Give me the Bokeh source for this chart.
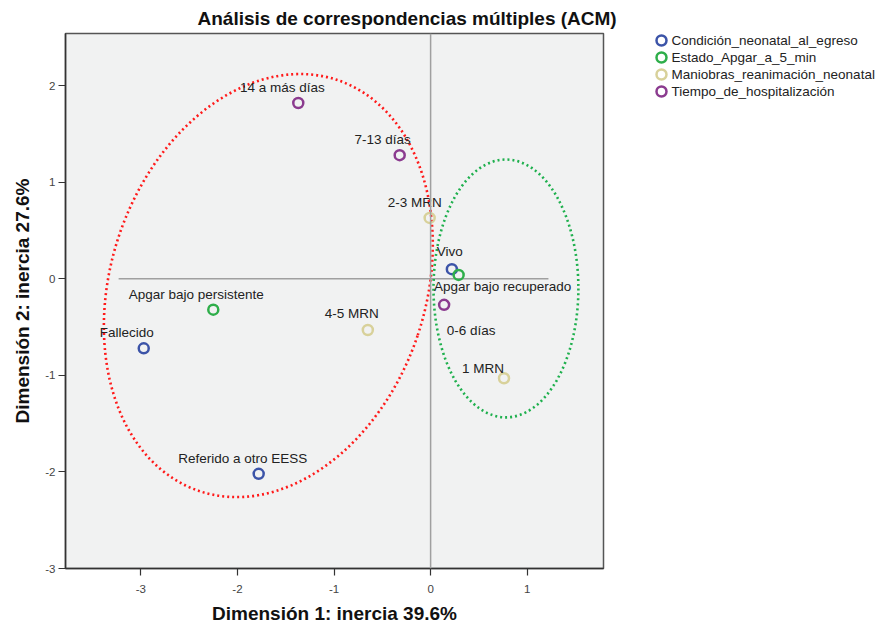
import math
from bokeh.plotting import figure
from bokeh.layouts import row
from bokeh.models import Span, FixedTicker, ColumnDataSource, PrintfTickFormatter
from bokeh.core.properties import value
from bokeh.embed import file_html
from bokeh.resources import INLINE

# ---------------- data ----------------
groups = ["Condición_neonatal_al_egreso", "Estado_Apgar_a_5_min",
          "Maniobras_reanimación_neonatal", "Tiempo_de_hospitalización"]
group_colors = ["#3c54a8", "#2eae4a", "#d8d19a", "#8b3b8f"]

categories = ["Vivo", "Fallecido", "Referido a otro EESS",
              "Apgar bajo persistente", "Apgar bajo recuperado",
              "2-3 MRN", "4-5 MRN", "1 MRN",
              "14 a más días", "7-13 días", "0-6 días"]
category_group = [0, 0, 0, 1, 1, 2, 2, 2, 3, 3, 3]
dim1 = [0.22, -2.97, -1.78, -2.25, 0.29, -0.01, -0.65, 0.76, -1.37, -0.32, 0.14]
dim2 = [0.10, -0.72, -2.02, -0.32, 0.04, 0.63, -0.53, -1.03, 1.82, 1.28, -0.27]

x_ticks = [-3, -2, -1, 0, 1]
y_ticks = [-3, -2, -1, 0, 1, 2]

title_text = "Análisis de correspondencias múltiples (ACM)"
x_label = "Dimensión 1: inercia 39.6%"
y_label = "Dimensión 2: inercia 27.6%"

# ---------------- styles / layout ----------------
label_dx = [-2, -17, -16, -17, 44, -15, -16, -21, -16, -17, 27]
label_dy = [-18, -16, -15, -15, 12, -15, -16, -10, -16, -16, 26]

red_ell = dict(x=-1.68, y=-0.07, w=3.26, h=4.49, angle=-18.6)
green_ell = dict(x=0.78, y=-0.10, w=1.50, h=2.67, angle=0.0)
hline_from, hline_to = -3.23, 1.22

FONT = "Liberation Sans"

p = figure(frame_width=538, frame_height=535,
           x_range=(-3.78, 1.79), y_range=(-3.0, 2.54),
           min_border_left=65, min_border_right=40,
           min_border_top=33, min_border_bottom=50,
           output_backend="svg", toolbar_location=None,
           title=title_text)

p.background_fill_color = "#f1f2f2"
p.border_fill_color = "white"
p.outline_line_color = "#555555"
p.outline_line_width = 1.5
p.xgrid.visible = False
p.ygrid.visible = False

p.title.align = "left"
p.title.vertical_align = "top"
p.title.offset = 132
p.title.text_font = FONT
p.title.text_font_size = "19px"
p.title.text_font_style = "bold"
p.title.text_color = "#111111"
p.title.standoff = 6

for ax, ticks, lab in ((p.xaxis[0], x_ticks, x_label), (p.yaxis[0], y_ticks, y_label)):
    ax.ticker = FixedTicker(ticks=ticks)
    ax.formatter = PrintfTickFormatter(format="%d")
    ax.minor_tick_line_color = None
    ax.major_tick_in = 0
    ax.major_tick_out = 7
    ax.major_tick_line_color = "#333333"
    ax.major_tick_line_width = 1.2
    ax.axis_line_color = "#333333"
    ax.axis_line_width = 1.5
    ax.major_label_text_font = FONT
    ax.major_label_text_font_size = "11.5px"
    ax.major_label_text_color = "#444444"
    ax.axis_label = lab
    ax.axis_label_text_font = FONT
    ax.axis_label_text_font_size = "19px"
    ax.axis_label_text_font_style = "bold"
    ax.axis_label_text_color = "#111111"
p.xaxis.major_label_standoff = 9
p.yaxis.major_label_standoff = 3
p.xaxis.axis_label_standoff = 7
p.yaxis.axis_label_standoff = 9
p.yaxis.major_label_orientation = "horizontal"

# reference lines
p.add_layout(Span(location=0, dimension="height", line_color="#a0a0a0", line_width=1.5))
p.segment(x0=[hline_from], y0=[0], x1=[hline_to], y1=[0], line_color="#a0a0a0", line_width=1.5)

# ellipses
for e, col in ((red_ell, "#ff1a1a"), (green_ell, "#1fb04e")):
    p.ellipse(x=[e["x"]], y=[e["y"]], width=[e["w"]], height=[e["h"]],
              angle=[math.radians(e["angle"])], fill_color=None,
              line_color=col, line_width=2.6, line_dash="2 3")

# points
src = ColumnDataSource(dict(
    x=dim1, y=dim2, name=categories,
    color=[group_colors[g] for g in category_group],
    dx=label_dx, dy=label_dy))
p.scatter("x", "y", source=src, size=10, fill_color=None,
          line_color="color", line_width=2.5)
p.text("x", "y", text="name", source=src, x_offset="dx", y_offset="dy",
       text_align="center", text_baseline="middle",
       text_font=value(FONT), text_font_size="13.5px", text_color="#222222")

# ---------------- legend (separate panel, frame aligned with main frame) ----------------
leg = figure(frame_width=232, frame_height=535, x_range=(0, 232), y_range=(535, 0),
             min_border=0, x_axis_type=None, y_axis_type=None,
             output_backend="svg", toolbar_location=None)
leg.outline_line_color = None
leg.xgrid.visible = False
leg.ygrid.visible = False
leg.background_fill_color = "white"
leg_y = [7, 24, 41, 58]
leg.scatter(x=[18] * len(groups), y=leg_y, size=10, fill_color=None,
            line_color=group_colors, line_width=2.5)
leg.text(x=[28] * len(groups), y=leg_y, text=groups, text_align="left",
         text_baseline="middle", text_font=value(FONT), text_font_size="13.5px",
         text_color="#222222")

layout = row(p, leg)
open("out.html", "w").write(file_html(layout, INLINE))
